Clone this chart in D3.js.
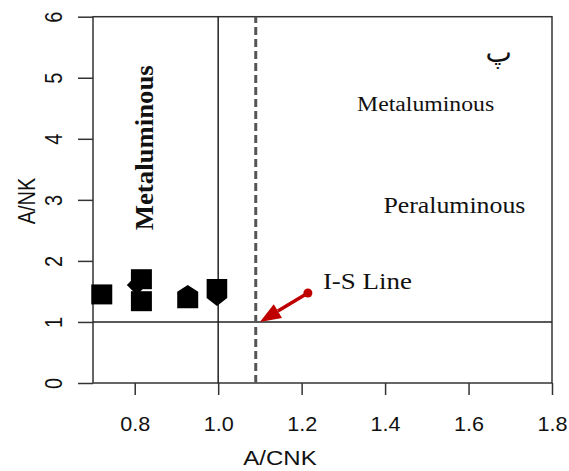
<!DOCTYPE html>
<meta charset="utf-8" />
<style>
  body { margin: 0; background: #fff; }
  .axis text { font-family: "Liberation Sans", Arial, sans-serif; fill: #111; }
  .axis path, .axis line { stroke: #333; stroke-width: 1.5; }
  .note { font-family: "Liberation Serif", "Times New Roman", serif; fill: #111; }
</style>
<body>
  <script src="https://d3js.org/d3.v7.min.js"></script>
  <script>
    // tick values
    const xTicks = [0.8, 1.0, 1.2, 1.4, 1.6, 1.8];
    const yTicks = [0, 1, 2, 3, 4, 5, 6];

    // samples (diamond first so the squares sit over it)
    const ptX = [0.805, 0.721, 0.816, 0.816, 0.927, 0.997];
    const ptY = [1.607, 1.451, 1.70, 1.34, 1.36, 1.546];
    const ptShape = ["diamond", "square", "square", "square", "house", "shield"];

    // reference lines
    const refX = 1.0;
    const refY = 1.0;
    const isLineX = 1.09;

    // I-S line arrow: from, to
    const arrowX = [1.215, 1.10];
    const arrowY = [1.475, 1.0];

    // text notes
    const noteText = ["Metaluminous", "Metaluminous", "Peraluminous", "I-S Line", "پ"];
    const noteX = [0.844, 1.333, 1.396, 1.251, 1.672];
    const noteY = [3.853, 4.46, 2.787, 1.536, 5.25];

    const W = 569, H = 471;
    const svg = d3.select("body").append("svg")
      .attr("width", W).attr("height", H);

    const x = d3.scaleLinear().domain([0.7, 1.8]).range([93, 552]);
    const y = d3.scaleLinear().domain([0, 6]).range([383, 16.7]);

    // box
    svg.append("rect")
      .attr("x", x(0.7)).attr("y", y(6))
      .attr("width", x(1.8) - x(0.7)).attr("height", y(0) - y(6))
      .attr("fill", "none").attr("stroke", "#333").attr("stroke-width", 1.5);

    // axes
    const gx = svg.append("g").attr("class", "axis")
      .attr("transform", "translate(0," + y(0) + ")")
      .call(d3.axisBottom(x).tickValues(xTicks).tickSize(12).tickSizeOuter(0)
        .tickFormat(d3.format(".1f")));
    gx.select(".domain").remove();
    gx.selectAll("text").attr("font-size", 20).attr("dy", 0).attr("y", 48)
      .attr("transform", "scale(1.08,1)");

    const gy = svg.append("g").attr("class", "axis")
      .attr("transform", "translate(" + x(0.7) + ",0)")
      .call(d3.axisLeft(y).tickValues(yTicks).tickSize(15).tickSizeOuter(0)
        .tickFormat(d3.format("d")));
    gy.select(".domain").remove();
    gy.selectAll("text").attr("font-size", 20).attr("x", null).attr("dy", 0)
      .attr("text-anchor", "middle")
      .attr("transform", "translate(-31,0) scale(1.18,1) rotate(-90)");

    // axis titles
    svg.append("text")
      .attr("transform", "translate(280,465) scale(1.2,1)")
      .attr("text-anchor", "middle")
      .style("font-family", "Liberation Sans, Arial, sans-serif")
      .attr("font-size", 20).attr("fill", "#111")
      .text("A/CNK");
    svg.append("text")
      .attr("transform", "translate(35,201) scale(1.18,1) rotate(-90)")
      .attr("text-anchor", "middle")
      .style("font-family", "Liberation Sans, Arial, sans-serif")
      .attr("font-size", 20).attr("fill", "#111")
      .text("A/NK");

    // reference lines
    svg.append("line")
      .attr("x1", x(refX)).attr("x2", x(refX))
      .attr("y1", y(0)).attr("y2", y(6))
      .attr("stroke", "#222").attr("stroke-width", 1.5);
    svg.append("line")
      .attr("x1", x(0.7)).attr("x2", x(1.8))
      .attr("y1", y(refY)).attr("y2", y(refY))
      .attr("stroke", "#222").attr("stroke-width", 1.5);
    svg.append("line")
      .attr("x1", x(isLineX)).attr("x2", x(isLineX))
      .attr("y1", y(0)).attr("y2", y(6))
      .attr("stroke", "#555").attr("stroke-width", 3)
      .attr("stroke-dasharray", "8,4");

    // marker shapes
    function shapePath(s, cx, cy) {
      const p = d3.path();
      if (s === "square") {
        p.rect(cx - 10.5, cy - 10, 21, 20);
      } else if (s === "diamond") {
        p.moveTo(cx, cy - 10); p.lineTo(cx + 10, cy); p.lineTo(cx, cy + 10);
        p.lineTo(cx - 10, cy); p.closePath();
      } else if (s === "house") {
        p.moveTo(cx - 10.5, cy + 8.3); p.lineTo(cx - 10.5, cy - 8.3);
        p.lineTo(cx, cy - 15); p.lineTo(cx + 10.5, cy - 8.3);
        p.lineTo(cx + 10.5, cy + 8.3); p.closePath();
      } else if (s === "shield") {
        p.moveTo(cx - 10.3, cy - 9.5); p.lineTo(cx + 10.3, cy - 9.5);
        p.lineTo(cx + 10.3, cy + 9.5); p.lineTo(cx, cy + 17.5);
        p.lineTo(cx - 10.3, cy + 9.5); p.closePath();
      }
      return p.toString();
    }

    svg.append("g").selectAll("path")
      .data(d3.range(ptX.length))
      .join("path")
      .attr("d", (i) => shapePath(ptShape[i], x(ptX[i]), y(ptY[i])))
      .attr("fill", "#000");

    // arrow
    const ax0 = x(arrowX[0]), ay0 = y(arrowY[0]);
    const ax1 = x(arrowX[1]), ay1 = y(arrowY[1]);
    const ang = Math.atan2(ay1 - ay0, ax1 - ax0);
    const hl = 21, hw = 8;
    const bx = ax1 - hl * Math.cos(ang), by = ay1 - hl * Math.sin(ang);
    svg.append("line")
      .attr("x1", ax0).attr("y1", ay0).attr("x2", bx).attr("y2", by)
      .attr("stroke", "#c00000").attr("stroke-width", 3.5);
    svg.append("circle")
      .attr("cx", ax0).attr("cy", ay0).attr("r", 4.5).attr("fill", "#c00000");
    svg.append("path")
      .attr("d", "M" + ax1 + "," + ay1 +
        "L" + (bx + hw * Math.sin(ang)) + "," + (by - hw * Math.cos(ang)) +
        "L" + (bx - hw * Math.sin(ang)) + "," + (by + hw * Math.cos(ang)) + "Z")
      .attr("fill", "#c00000");

    // notes
    const noteSize = [26, 20, 24, 24, 28];
    const noteLen = [165, 137, 142, 89, null];
    noteText.forEach(function (t, i) {
      const el = svg.append("text").attr("class", "note")
        .attr("font-size", noteSize[i])
        .text(t);
      if (i === 0) {
        el.attr("font-weight", "bold").attr("text-anchor", "middle")
          .attr("transform", "translate(" + x(noteX[i]) + "," + y(noteY[i]) + ") rotate(-90)")
          .attr("textLength", noteLen[i]).attr("lengthAdjust", "spacingAndGlyphs");
      } else if (i === 4) {
        el.attr("text-anchor", "middle")
          .style("font-family", "DejaVu Serif, DejaVu Sans, serif")
          .attr("x", x(noteX[i])).attr("y", y(noteY[i]));
      } else {
        el.attr("x", x(noteX[i])).attr("y", y(noteY[i]))
          .attr("textLength", noteLen[i]).attr("lengthAdjust", "spacingAndGlyphs");
      }
    });
  </script>
</body>
